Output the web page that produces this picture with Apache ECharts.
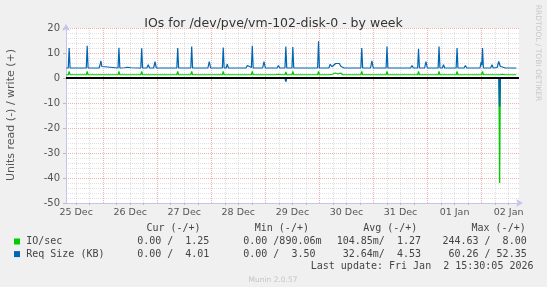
<!DOCTYPE html>
<html>
<head>
<meta charset="utf-8">
<script src="https://cdn.jsdelivr.net/npm/echarts@6/dist/echarts.min.js"></script>
<style>
html,body{margin:0;padding:0;background:#f0f0f0;}
#chart{width:547px;height:287px;}
</style>
</head>
<body>
<div id="chart"></div>
<script>
// ---- Data (x = hours since 25 Dec 00:00) ----
const dayLabels = ['25 Dec','26 Dec','27 Dec','28 Dec','29 Dec','30 Dec','31 Dec','01 Jan','02 Jan'];
const labelHours = [12,36,60,84,108,132,156,180,204];
const midnightHours = [24,48,72,96,120,144,168,192];
const sixHourTicks = [12,18,30,36,42,54,60,66,78,84,90,102,108,114,126,132,138,150,156,162,174,180,186,198,204];

// Req Size (KB), write (+)
const reqSizeWrite = [
[7.6,4.0],[8.5,4.0],[8.9,12.0],[9.3,4.0],
[16.5,4.0],[16.9,12.9],[17.3,4.0],
[22.2,4.0],[22.6,5.2],[23.0,6.9],[23.4,4.6],[24.0,4.1],
[30.6,4.0],[31.0,12.1],[31.4,4.0],
[33.5,4.1],[34.0,4.6],[34.8,4.3],[35.5,4.5],[36.2,4.1],
[40.7,4.0],[41.1,11.9],[41.5,4.0],
[43.4,4.0],[44.0,5.3],[44.6,4.0],
[46.4,4.0],[47.0,6.5],[47.6,4.0],
[56.7,4.0],[57.1,12.0],[57.5,4.0],
[62.9,4.0],[63.3,12.6],[63.7,4.0],
[64.8,4.0],[65.3,4.8],[65.8,4.0],
[70.5,4.0],[71.1,6.6],[71.7,4.0],
[76.9,4.0],[77.3,12.2],[77.7,4.0],[78.6,4.0],[79.1,5.5],[79.6,4.0],
[87.4,4.0],[88.0,5.0],[88.6,4.2],[89.8,4.2],[90.2,12.9],[90.6,4.0],
[94.8,4.0],[95.4,6.6],[96.0,4.0],
[101.2,4.0],[101.8,5.0],[102.4,4.0],
[104.7,4.0],[105.1,12.6],[105.5,4.0],
[107.8,4.0],[108.2,12.4],[108.6,4.0],
[119.2,4.0],[119.6,14.7],[120.0,4.0],
[124.2,4.0],[124.8,5.5],[125.6,4.5],[126.4,5.3],[127.2,5.8],[128.0,5.2],[128.8,5.8],[129.6,4.6],[130.3,5.2],[131.0,4.0],
[138.4,4.0],[138.8,12.0],[139.2,4.0],
[142.7,4.0],[143.3,6.9],[143.9,4.0],
[149.6,4.0],[150.0,12.6],[150.4,4.0],
[160.5,4.0],[161.1,5.0],[161.7,4.0],
[163.6,4.0],[164.0,11.7],[164.4,4.0],
[166.7,4.0],[167.3,6.6],[167.9,4.0],
[172.7,4.0],[173.1,12.6],[173.5,4.0],[174.6,4.0],[175.1,5.3],[175.6,4.0],
[180.7,4.0],[181.1,12.0],[181.5,4.0],
[184.2,4.0],[184.8,5.0],[185.4,4.0],
[191.3,4.0],[191.8,6.5],[192.1,5.0],[192.4,12.0],[192.8,4.0],
[196.0,4.0],[196.6,5.3],[197.2,4.0],
[198.9,4.2],[199.6,6.6],[200.3,4.6],[201.2,4.4],[201.8,5.0],[202.5,4.0],
[207.4,4.0]
];

// IO/sec, write (+)
const ioWrite = [
[7.6,1.3],[8.5,1.3],[8.9,2.6],[9.3,1.3],
[16.5,1.3],[16.9,2.6],[17.3,1.3],
[30.6,1.3],[31.0,2.6],[31.4,1.3],
[40.7,1.3],[41.1,2.6],[41.5,1.3],
[56.7,1.3],[57.1,2.6],[57.5,1.3],
[62.9,1.3],[63.3,2.6],[63.7,1.3],
[76.9,1.3],[77.3,2.6],[77.7,1.3],
[89.8,1.3],[90.2,2.6],[90.6,1.3],
[94.8,1.3],[95.4,1.9],[96.0,1.3],
[100.6,1.3],[101.2,2.0],[101.8,1.5],[102.4,1.9],[103.0,1.3],
[104.7,1.3],[105.1,2.4],[105.5,1.3],
[107.8,1.3],[108.2,2.6],[108.6,1.3],
[119.2,1.3],[119.6,2.6],[120.0,1.3],
[124.4,1.3],[125.0,1.9],[125.8,1.5],[127.0,2.0],[128.2,1.6],[129.4,2.0],[130.4,1.3],
[138.4,1.3],[138.8,2.6],[139.2,1.3],
[149.6,1.3],[150.0,2.6],[150.4,1.3],
[163.6,1.3],[164.0,2.6],[164.4,1.3],
[172.7,1.3],[173.1,2.6],[173.5,1.3],
[180.7,1.3],[181.1,2.6],[181.5,1.3],
[192.0,1.3],[192.4,2.6],[192.8,1.3],
[196.3,1.3],[196.8,1.8],[197.3,1.3],
[199.0,1.3],[199.6,1.9],[200.2,1.3],[201.2,1.5],[201.8,1.9],[202.4,1.3],
[207.4,1.3]
];

// read (-) values
const ioRead = [[7.6,0],[199.7,0],[200.0,-42],[200.3,0],[207.4,0]];
const reqSizeRead = [[7.6,0],[104.8,0],[105.1,-1.4],[105.4,0],[199.7,0],[200.0,-11.4],[200.3,0],[207.4,0]];

// legend texts
const seriesNames = ['IO/sec','Req Size (KB)'];
const statHeader = 'Cur (-/+)         Min (-/+)         Avg (-/+)         Max (-/+)';
const ioStats = ['  0.00 /  1.25','  0.00 /890.06m','104.85m/  1.27','244.63 /  8.00'];
const reqStats = ['  0.00 /  4.01','  0.00 /  3.50',' 32.64m/  4.53',' 60.26 / 52.35'];
const lastUpdate = 'Last update: Fri Jan  2 15:30:05 2026';
const titleText = 'IOs for /dev/pve/vm-102-disk-0 - by week';
const yTitle = 'Units read (-) / write (+)';
const sideText = 'RRDTOOL / TOBI OETIKER';
const versionText = 'Munin 2.0.57';

// ---- Chart ----
const X_MIN = 7.5, X_MAX = 208.6;
const GREEN = '#00cc00', BLUE = '#0066b3';
const AXIS_COL = '#c4c4ec';
const MAJOR = 'rgba(235,120,120,0.6)';
const MINOR = 'rgba(185,185,185,0.45)';
const mono = "'DejaVu Sans Mono', monospace";
const sans = "'DejaVu Sans', sans-serif";

const chart = echarts.init(document.getElementById('chart'), null, {renderer:'canvas'});

const statCols = [125.1, 231.2, 336.7, 442.4];
const rowsY = [241.5, 254.1];
const graphics = [];
graphics.push({type:'text', x: 11, y: 115, rotation: Math.PI/2, style:{text: yTitle, font: '11px ' + sans, fill:'#555', textAlign:'center', textVerticalAlign:'middle'}});
graphics.push({type:'text', x: 537.5, y: 53, rotation: -Math.PI/2, style:{text: sideText, font: '7.5px ' + sans, fill:'#c8c8c8', textAlign:'center', textVerticalAlign:'middle'}});
graphics.push({type:'text', x: 146.4, y: 228.6, style:{text: statHeader, font: '10px ' + mono, fill:'#444', textAlign:'left', textVerticalAlign:'middle'}});
[ioStats, reqStats].forEach((stats, r) => {
  graphics.push({type:'rect', shape:{x:14, y: rowsY[r]-3, width:6, height:6}, style:{fill: r===0?GREEN:BLUE}});
  graphics.push({type:'text', x: 26.2, y: rowsY[r], style:{text: seriesNames[r], font:'10px ' + mono, fill:'#444', textAlign:'left', textVerticalAlign:'middle'}});
  stats.forEach((s, c) => {
    graphics.push({type:'text', x: statCols[c], y: rowsY[r], style:{text: s, font:'10px ' + mono, fill:'#444', textAlign:'left', textVerticalAlign:'middle'}});
  });
});
graphics.push({type:'text', x: 533.5, y: 266.3, style:{text: lastUpdate, font:'10px ' + mono, fill:'#444', textAlign:'right', textVerticalAlign:'middle'}});
graphics.push({type:'text', x: 273, y: 279.6, style:{text: versionText, font:'7.5px ' + sans, fill:'#c4c4c4', textAlign:'center', textVerticalAlign:'middle'}});

const baseX = {type:'value', min:X_MIN, max:X_MAX, position:'bottom', gridIndex:0};

const option = {
  animation: false,
  backgroundColor: '#f0f0f0',
  title: {text: titleText, left: 'center', top: 12, textStyle:{fontFamily: sans, fontSize: 12.5, fontWeight:'normal', color:'#333'}},
  grid: {left:66, right:28, top:28, bottom:84, show:true, backgroundColor:'#ffffff', borderWidth:0},
  xAxis: [
    Object.assign({}, baseX, {
      axisLine:{show:true, onZero:false, lineStyle:{color:AXIS_COL, width:1}, symbol:['none','arrow'], symbolSize:[6,7], symbolOffset:[0,4]},
      axisTick:{show:true, customValues: sixHourTicks, length:2, lineStyle:{color:'#bbbbbb'}},
      axisLabel:{show:false},
      splitLine:{show:true, lineStyle:{color:MINOR, type:[1,1], width:1}}
    }),
    Object.assign({}, baseX, {
      axisLine:{show:false},
      axisTick:{show:true, customValues: midnightHours, length:3, lineStyle:{color:MAJOR}},
      axisLabel:{show:false},
      splitLine:{show:true, lineStyle:{color:MAJOR, type:[1,1], width:1}}
    }),
    Object.assign({}, baseX, {
      axisLine:{show:false},
      axisTick:{show:false, customValues: labelHours},
      splitLine:{show:false},
      axisLabel:{show:true, customValues: labelHours, margin:5, color:'#555', fontFamily: sans, fontSize:9.5,
        formatter: v => dayLabels[Math.round((v - labelHours[0]) / 24)]}
    })
  ],
  yAxis: {
    type:'value', min:-50, max:20, interval:10,
    axisLine:{show:true, lineStyle:{color:AXIS_COL, width:1}, symbol:['none','arrow'], symbolSize:[6,7], symbolOffset:[0,4]},
    axisTick:{show:true, length:3, lineStyle:{color:'#bbbbbb'}},
    minorTick:{show:false, splitNumber:5},
    axisLabel:{color:'#555', fontFamily: sans, fontSize:10, margin:6},
    splitLine:{show:true, lineStyle:{color:MAJOR, type:[1,1], width:1}},
    minorSplitLine:{show:true, lineStyle:{color:MINOR, type:[1,1], width:1}}
  },
  graphic: graphics,
  series: [
    {name:'IO/sec read', type:'line', xAxisIndex:0, data: ioRead, showSymbol:false, lineStyle:{color:GREEN, width:1.3}, itemStyle:{color:GREEN}, z:2},
    {name:'Req Size read', type:'line', xAxisIndex:0, data: reqSizeRead, showSymbol:false, lineStyle:{color:BLUE, width:1.6}, itemStyle:{color:BLUE}, z:3},
    {name:'IO/sec', type:'line', xAxisIndex:0, data: ioWrite, showSymbol:false, lineStyle:{color:GREEN, width:1.2}, itemStyle:{color:GREEN}, z:4},
    {name:'Req Size (KB)', type:'line', xAxisIndex:0, data: reqSizeWrite, showSymbol:false, lineStyle:{color:BLUE, width:1.2}, itemStyle:{color:BLUE}, z:5,
      markLine:{silent:true, symbol:'none', label:{show:false}, lineStyle:{color:'#000', width:2, type:'solid'}, data:[{yAxis:0}], z:6}}
  ]
};
chart.setOption(option);
</script>
</body>
</html>
